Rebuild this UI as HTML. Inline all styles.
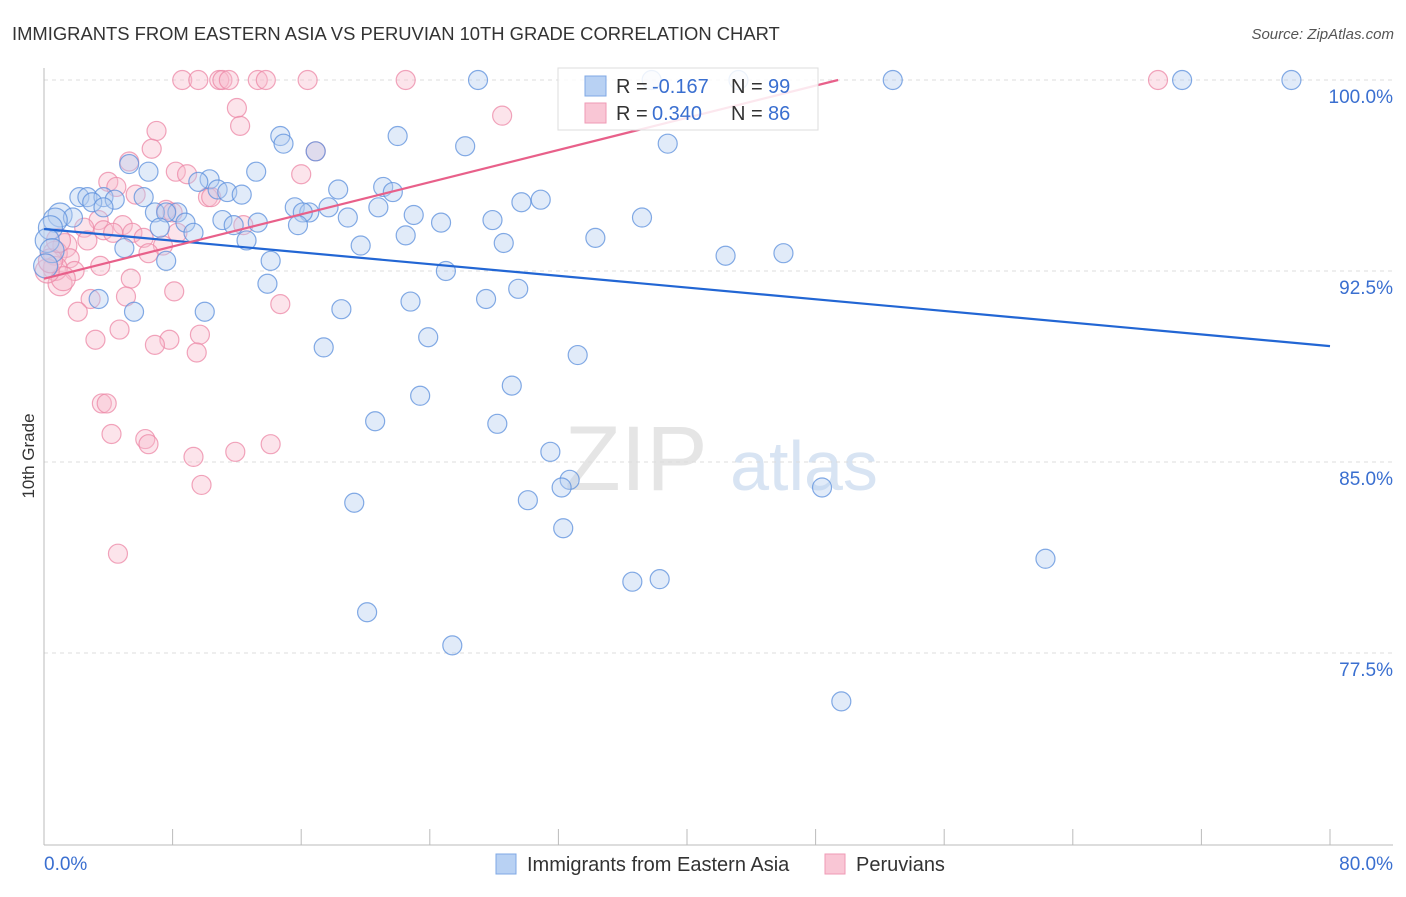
<!DOCTYPE html>
<html><head><meta charset="utf-8"><style>
body{margin:0;background:#fff;font-family:"Liberation Sans",sans-serif;}
svg text{font-family:"Liberation Sans",sans-serif;}
</style></head><body>
<svg id="chart" width="1406" height="892" viewBox="0 0 1406 892" xmlns="http://www.w3.org/2000/svg">
<text x="12" y="40" font-size="18.4" fill="#333">IMMIGRANTS FROM EASTERN ASIA VS PERUVIAN 10TH GRADE CORRELATION CHART</text>
<text x="1394" y="39" font-size="15" fill="#555" font-style="italic" text-anchor="end">Source: ZipAtlas.com</text>
<g><text x="636" y="490" font-size="92" fill="#e5e5e5" font-family="Liberation Serif" text-anchor="middle">ZIP</text><text x="804" y="490" font-size="70" fill="#d8e4f3" text-anchor="middle">atlas</text></g>
<g id="grid"></g>
<g id="axes"></g>
<g id="points"></g>
<g id="trends"></g>
<text transform="translate(34,456) rotate(-90)" font-size="17" fill="#333" text-anchor="middle">10th Grade</text>
<g>
<rect x="558" y="68" width="260" height="62" fill="#fff" fill-opacity="0.85" stroke="#ddd"/>
<rect x="585" y="76" width="21" height="20" fill="#b8d1f3" stroke="#7fa8e4"/>
<text x="616" y="93" font-size="20" fill="#333">R =</text>
<text x="652" y="93" font-size="20" fill="#3a6fd0">-0.167</text>
<text x="731" y="93" font-size="20" fill="#333">N =</text>
<text x="768" y="93" font-size="20" fill="#3a6fd0">99</text>
<rect x="585" y="103" width="21" height="20" fill="#f9c6d5" stroke="#ef9ab5"/>
<text x="616" y="120" font-size="20" fill="#333">R =</text>
<text x="652" y="120" font-size="20" fill="#3a6fd0">0.340</text>
<text x="731" y="120" font-size="20" fill="#333">N =</text>
<text x="768" y="120" font-size="20" fill="#3a6fd0">86</text>
</g>
<g>
<rect x="496" y="854" width="20" height="20" fill="#b8d1f3" stroke="#7fa8e4"/>
<text x="527" y="871" font-size="20" fill="#333">Immigrants from Eastern Asia</text>
<rect x="825" y="854" width="20" height="20" fill="#f9c6d5" stroke="#ef9ab5"/>
<text x="856" y="871" font-size="20" fill="#333">Peruvians</text>
</g>
</svg>
<script>
const yTicks=[100,92.5,85,77.5];
const yTickLabels=["100.0%","92.5%","85.0%","77.5%"];
const xTickCount=10;
const xLabels=["0.0%","80.0%"];
const blueX=[27.0,37.8,43.2,52.8,70.8,77.6,14.7,14.9,22.0,26.2,38.8,16.9,5.3,13.2,6.5,10.3,9.6,10.8,11.4,12.3,18.3,21.1,21.7,2.2,2.7,3.7,4.4,6.2,3.0,3.7,15.6,17.7,20.8,29.7,30.9,16.5,16.1,6.9,8.3,7.6,1.0,1.8,0.7,18.9,23.0,37.2,11.1,11.8,13.3,8.8,15.8,24.7,27.9,0.4,7.2,9.3,22.5,34.3,12.6,19.7,28.6,5.0,42.4,46.0,7.6,14.1,25.0,13.9,3.4,22.8,27.5,29.5,10.0,5.6,18.5,23.9,17.4,33.2,29.1,23.4,20.6,28.2,31.5,32.7,32.2,48.4,30.1,19.3,32.3,62.3,38.3,36.6,20.1,25.4,49.6,0.2,0.5,0.1];
const blueY=[100,100,100,100,100,100,97.8,97.5,97.8,97.4,97.5,97.2,96.7,96.4,96.4,96.1,96.0,95.7,95.6,95.5,95.7,95.8,95.6,95.4,95.4,95.4,95.3,95.4,95.2,95.0,95.0,95.0,95.0,95.2,95.3,94.8,94.8,94.8,94.8,94.8,94.7,94.6,94.5,94.6,94.7,94.6,94.5,94.3,94.4,94.4,94.3,94.4,94.5,94.2,94.2,94.0,93.9,93.8,93.7,93.5,93.6,93.4,93.1,93.2,92.9,92.9,92.5,92.0,91.4,91.3,91.4,91.8,90.9,90.9,91.0,89.9,89.5,89.2,88.0,87.6,86.6,86.5,85.4,84.3,84.0,84.0,83.5,83.4,82.4,81.2,80.4,80.3,79.1,77.8,75.6,93.7,93.3,92.7];
const pinkX=[8.6,9.6,10.9,11.1,11.5,13.3,13.8,16.4,22.5,69.3,12.0,12.2,28.5,7.0,6.7,16.9,5.3,8.2,8.9,16.0,4.0,4.5,5.7,10.2,10.4,7.6,8.0,3.4,4.9,12.4,3.7,5.5,2.5,2.7,4.3,6.2,8.3,7.4,6.5,1.3,0.7,1.6,1.9,3.5,5.4,8.1,1.0,2.9,5.1,2.1,14.7,9.7,4.7,3.2,7.8,6.9,9.5,3.6,3.9,4.2,6.3,6.5,9.3,11.9,14.1,9.8,4.6,0.7,1.2,0.2,0.4,0.9];
const pinkY=[100,100,100,100,100,100,100,100,100,100,98.9,98.2,98.6,98.0,97.3,97.2,96.8,96.4,96.3,96.3,96.0,95.8,95.5,95.4,95.4,94.9,94.8,94.5,94.3,94.3,94.1,94.0,94.2,93.7,94.0,93.8,94.0,93.5,93.2,93.5,93.2,93.0,92.5,92.7,92.2,91.7,92.0,91.4,91.5,90.9,91.2,90.0,90.2,89.8,89.8,89.6,89.3,87.3,87.3,86.1,85.9,85.7,85.2,85.4,85.7,84.1,81.4,92.6,92.2,92.5,92.9,93.7];
const blueTrendX=[0,80];
const blueTrendY=[94.15,89.55];
const pinkTrendX=[0,49.4];
const pinkTrendY=[92.2,100];

const X0=44,X1=1330,Y0=80,Y1=653;
const sx=v=>X0+(v/80)*(X1-X0);
const sy=v=>Y0+(100-v)/22.5*(Y1-Y0);
const NS="http://www.w3.org/2000/svg";
function mk(t,a,p){const e=document.createElementNS(NS,t);for(const k in a)e.setAttribute(k,a[k]);p.appendChild(e);return e;}
const grid=document.getElementById('grid'),axes=document.getElementById('axes'),pts=document.getElementById('points'),tr=document.getElementById('trends');
yTicks.forEach((v,i)=>{
 const l=mk('line',{x1:X0,x2:1393,y1:sy(v),y2:sy(v),stroke:'#ddd','stroke-dasharray':'4,4'},grid);
 
 
 const t=mk('text',{x:1393,y:sy(v)+23,'font-size':19,fill:'#3a6fd0','text-anchor':'end'},grid);
 t.textContent=yTickLabels[i];
 
 
});
const ax=mk('line',{x1:X0,x2:1393,y1:845,y2:845,stroke:'#bbb'},axes);


const ay=mk('line',{x1:X0,x2:X0,y1:68,y2:845,stroke:'#bbb'},axes);


for(let i=0;i<=xTickCount;i++){
 const x=sx(i*80/xTickCount);
 const tk=mk('line',{x1:x,x2:x,y1:829,y2:845,stroke:'#bbb'},axes);
 
 
}
const xl0=mk('text',{x:44,y:870,'font-size':19,fill:'#3a6fd0'},axes);xl0.textContent=xLabels[0];


const xl1=mk('text',{x:1393,y:870,'font-size':19,fill:'#3a6fd0','text-anchor':'end'},axes);xl1.textContent=xLabels[1];


function dots(xs,ys,fill,stroke,name){
 xs.forEach((v,i)=>{
  const r=(v<1.5)?12:9.5;
  const c=mk('circle',{cx:sx(v),cy:sy(ys[i]),r:r,fill:fill,'fill-opacity':0.4,stroke:stroke,'stroke-opacity':0.75,'stroke-width':1.2},pts);
  
  
 });
}
dots(pinkX,pinkY,'#f8bccd','#ec87a6','peruvian-point');
dots(blueX,blueY,'#b3cdf1','#5b8fdc','eastern-asia-point');
const bl=mk('line',{x1:sx(blueTrendX[0]),y1:sy(blueTrendY[0]),x2:sx(blueTrendX[1]),y2:sy(blueTrendY[1]),stroke:'#2266d4','stroke-width':2.2},tr);


const pl=mk('line',{x1:sx(pinkTrendX[0]),y1:sy(pinkTrendY[0]),x2:sx(pinkTrendX[1]),y2:sy(pinkTrendY[1]),stroke:'#e8608a','stroke-width':2.2},tr);


</script>
</body></html>
